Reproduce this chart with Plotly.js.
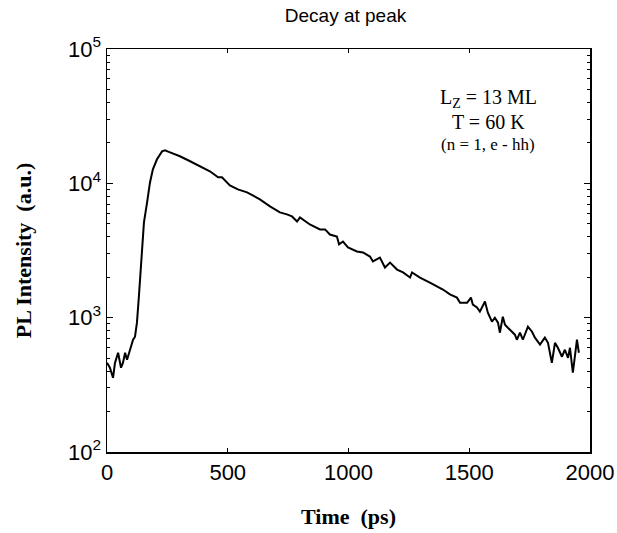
<!DOCTYPE html>
<html>
<head>
<meta charset="utf-8">
<script src="https://cdn.plot.ly/plotly-3.0.1.min.js"></script>
<style>html,body{margin:0;padding:0;background:#fff;}#chart{width:617px;height:533px;}</style>
</head>
<body>
<div id="chart"></div>
<script>
// Time (ps)
const timePs = [0, 12, 25, 33, 46, 58, 66, 75, 83, 95, 108, 116, 124, 132, 145, 153, 166, 178, 190, 207, 228, 240, 261, 302, 344, 385, 426, 460, 476, 509, 542, 580, 633, 675, 716, 745, 766, 787, 799, 840, 882, 903, 923, 952, 961, 977, 998, 1035, 1060, 1089, 1101, 1130, 1151, 1172, 1201, 1226, 1255, 1263, 1296, 1337, 1366, 1391, 1420, 1449, 1462, 1491, 1507, 1515, 1532, 1544, 1565, 1577, 1594, 1606, 1619, 1627, 1639, 1648, 1660, 1677, 1689, 1697, 1710, 1722, 1743, 1760, 1772, 1793, 1813, 1826, 1842, 1855, 1867, 1884, 1896, 1909, 1917, 1929, 1946, 1954];
// PL intensity (a.u.)
const plIntensity = [461, 424, 357, 461, 548, 424, 461, 548, 486, 577, 685, 722, 918, 1436, 2853, 5117, 7215, 10160, 12700, 15100, 17300, 17600, 17000, 15900, 14600, 13400, 12300, 11100, 11090, 9660, 9020, 8570, 7600, 6730, 6080, 5870, 5670, 5200, 5570, 4940, 4540, 4540, 4160, 4020, 3510, 3690, 3330, 3110, 3060, 2850, 2620, 2800, 2360, 2570, 2280, 2170, 1990, 2170, 1990, 1820, 1700, 1620, 1490, 1410, 1290, 1290, 1410, 1250, 1190, 1110, 1320, 1090, 933, 1000, 918, 773, 1017, 887, 842, 786, 747, 685, 773, 685, 857, 786, 710, 630, 710, 650, 461, 650, 597, 512, 577, 502, 597, 389, 685, 548];
const xTicks = [0, 500, 1000, 1500, 2000];
const yTicks = [100, 1000, 10000, 100000];
const yTickText = ['10<sup>2</sup>', '10<sup>3</sup>', '10<sup>4</sup>', '10<sup>5</sup>'];
const yMinorTicks = [200, 300, 400, 500, 600, 700, 800, 900, 2000, 3000, 4000, 5000, 6000, 7000, 8000, 9000, 20000, 30000, 40000, 50000, 60000, 70000, 80000, 90000];

const trace = {
  x: timePs, y: plIntensity, type: 'scatter', mode: 'lines',
  line: {color: '#000', width: 2}, showlegend: false
};
const tickFont = {family: 'Liberation Sans, Arial, sans-serif', size: 22, color: '#000'};
const serif = 'Liberation Serif, Times New Roman, serif';

const layout = {
  width: 617, height: 533,
  margin: {l: 107, r: 27, t: 49, b: 81},
  paper_bgcolor: '#fff', plot_bgcolor: '#fff',
  title: {text: 'Decay at peak', font: {family: 'Liberation Sans, Arial, sans-serif', size: 19, color: '#000'}, x: 0.56, xanchor: 'center', y: 0.972, yanchor: 'middle'},
  xaxis: {
    range: [0, 2000], tickvals: xTicks, ticktext: xTicks.map(String),
    showgrid: false, zeroline: false, showline: true, linecolor: '#000', linewidth: 1.5,
    mirror: 'ticks', ticks: 'inside', ticklen: 4, tickcolor: '#000',
    tickfont: tickFont,
    title: {text: '<b>Time  (ps)</b>', font: {family: serif, size: 22, color: '#000'}, standoff: 24}
  },
  yaxis: {
    type: 'log', range: [2, 5], tickvals: yTicks, ticktext: yTickText,
    showgrid: false, zeroline: false, showline: true, linecolor: '#000', linewidth: 1.5,
    mirror: 'ticks', ticks: 'inside', ticklen: 6, tickcolor: '#000',
    minor: {tickmode: 'array', tickvals: yMinorTicks, ticks: 'inside', ticklen: 3, tickcolor: '#000', tickwidth: 1, showgrid: false},
    tickfont: tickFont,
    title: {text: '<b>PL Intensity  (a.u.)</b>', font: {family: serif, size: 22, color: '#000'}, standoff: 30}
  },
  annotations: [
    {xref: 'paper', yref: 'paper', x: 0.789, y: 0.878, text: 'L<sub>Z</sub> = 13 ML', showarrow: false, xanchor: 'center', yanchor: 'middle', font: {family: serif, size: 20, color: '#000'}},
    {xref: 'paper', yref: 'paper', x: 0.789, y: 0.819, text: 'T = 60 K', showarrow: false, xanchor: 'center', yanchor: 'middle', font: {family: serif, size: 20, color: '#000'}},
    {xref: 'paper', yref: 'paper', x: 0.789, y: 0.762, text: '(n = 1, e - hh)', showarrow: false, xanchor: 'center', yanchor: 'middle', font: {family: serif, size: 17, color: '#000'}}
  ]
};

Plotly.newPlot('chart', [trace], layout, {displayModeBar: false, staticPlot: true});
</script>
</body>
</html>
